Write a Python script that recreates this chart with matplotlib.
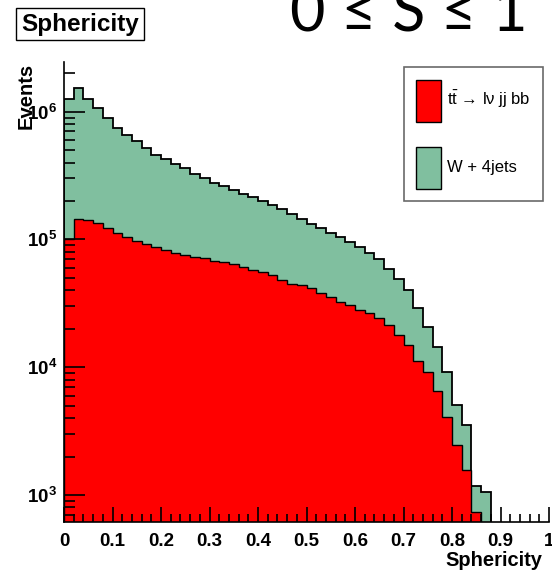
import matplotlib
matplotlib.use('Agg')
import matplotlib.pyplot as plt
from matplotlib.patches import Patch
from matplotlib.ticker import FixedLocator, MultipleLocator, FuncFormatter, LogLocator, NullFormatter
import numpy as np

plt.rcParams['font.family'] = ['Liberation Sans', 'DejaVu Sans']
plt.rcParams['mathtext.fontset'] = 'custom'
plt.rcParams['mathtext.rm'] = 'Liberation Sans'
plt.rcParams['mathtext.it'] = 'Liberation Sans:italic'
plt.rcParams['mathtext.bf'] = 'Liberation Sans:bold'

# 50 bins of sphericity, 0..1
bin_edges = np.linspace(0, 1, 51)

# stacked total (ttbar + W+4jets)
stack_total = [1.25e6, 1.52e6, 1.25e6, 1.06e6, 8.9e5, 7.4e5, 6.6e5, 5.9e5, 5.2e5, 4.6e5,
               4.25e5, 3.9e5, 3.6e5, 3.25e5, 3.05e5, 2.75e5, 2.62e5, 2.44e5, 2.27e5, 2.14e5,
               2.0e5, 1.86e5, 1.72e5, 1.58e5, 1.45e5, 1.33e5, 1.23e5, 1.12e5, 1.04e5, 9.6e4,
               8.7e4, 7.8e4, 7.0e4, 5.9e4, 4.93e4, 4.03e4, 2.91e4, 2.08e4, 1.45e4, 9.1e3,
               5.1e3, 3.5e3, 1.18e3, 1.06e3, 0, 0, 0, 0, 0, 0]

# ttbar -> lv jj bb
ttbar = [1.0e5, 1.45e5, 1.42e5, 1.34e5, 1.22e5, 1.13e5, 1.05e5, 9.7e4, 9.2e4, 8.7e4,
         8.2e4, 7.9e4, 7.6e4, 7.3e4, 7.1e4, 6.8e4, 6.6e4, 6.4e4, 6.1e4, 5.8e4,
         5.6e4, 5.3e4, 4.8e4, 4.5e4, 4.4e4, 4.15e4, 3.8e4, 3.56e4, 3.26e4, 3.07e4,
         2.81e4, 2.65e4, 2.42e4, 2.14e4, 1.79e4, 1.48e4, 1.11e4, 9.2e3, 6.5e3, 4.1e3,
         2.47e3, 1.57e3, 7.3e2, 0, 0, 0, 0, 0, 0, 0]

labels = [r'$\mathrm{t\bar{t}}$' + ' \u2192 l\u03bd jj bb', 'W + 4jets']
colors = ['#ff0000', '#80bf9f']

W, H = 552, 571
fig = plt.figure(figsize=(W / 100, H / 100), dpi=100)
ax = fig.add_axes([64 / W, 1 - 521.7 / H, 485 / W, 460 / H])

ax.set_yscale('log')
ax.stairs(stack_total, bin_edges, fill=True, facecolor=colors[1], baseline=1)
ax.stairs(stack_total, bin_edges, color='black', lw=1.3, baseline=1)
ax.stairs(ttbar, bin_edges, fill=True, facecolor=colors[0], baseline=1)
ax.stairs(ttbar, bin_edges, color='black', lw=1.0, baseline=1)

ax.set_xlim(0, 1)
ax.set_ylim(10 ** 2.791, 10 ** 6.391)

for s in ['top', 'right']:
    ax.spines[s].set_visible(False)
ax.spines['left'].set_linewidth(1.2)
ax.spines['bottom'].set_linewidth(1.2)

ax.xaxis.set_major_locator(MultipleLocator(0.1))
ax.xaxis.set_minor_locator(MultipleLocator(0.02))
ax.xaxis.set_major_formatter(FuncFormatter(lambda v, p: '%g' % round(v, 1)))
ax.yaxis.set_major_locator(FixedLocator([1e3, 1e4, 1e5, 1e6]))
ax.yaxis.set_minor_locator(LogLocator(base=10, subs=np.arange(2, 10)))
ax.yaxis.set_minor_formatter(NullFormatter())
ax.yaxis.set_major_formatter(FuncFormatter(lambda v, p: r'$\mathbf{10^{%d}}$' % round(np.log10(v))))

ax.tick_params(which='both', direction='in', width=1.2, top=False, right=False)
ax.tick_params(axis='x', which='major', length=11, pad=8, labelsize=13.5)
ax.tick_params(axis='x', which='minor', length=6)
ax.tick_params(axis='y', which='major', length=15, pad=5, labelsize=13.5)
ax.tick_params(axis='y', which='minor', length=8)
for t in ax.get_xticklabels():
    t.set_fontweight('bold')
ax.set_zorder(1)

fig.text(542 / W, 1 - 561 / H, 'Sphericity', ha='right', va='center',
         fontsize=14.5, fontweight='bold')
fig.text(26 / W, 1 - 63 / H, 'Events', ha='center', va='top', rotation=90,
         fontsize=14.5, fontweight='bold')

fig.text(80 / W, 1 - 24 / H, 'Sphericity', ha='center', va='center',
         fontsize=17.5, fontweight='bold',
         bbox=dict(boxstyle='square,pad=0.2', facecolor='white', edgecolor='black', lw=1.0))

fig.text(409 / W, 1 - 32 / H, '0 \u2264 S \u2264 1', ha='center', va='baseline',
         fontsize=44, family=['Lato', 'DejaVu Sans'])

handles = [Patch(facecolor=colors[0], edgecolor='black', lw=1.0),
           Patch(facecolor=colors[1], edgecolor='black', lw=1.0)]
leg = ax.legend(handles, labels, loc='upper right', bbox_to_anchor=(543 / W, 1 - 67 / H),
                bbox_transform=fig.transFigure, fontsize=12, frameon=True, fancybox=False,
                edgecolor='#444444', handlelength=1.5, handleheight=3.5, labelspacing=1.5,
                handletextpad=0.35, borderpad=0.75, borderaxespad=0)
leg.get_frame().set_linewidth(1.2)

fig.savefig('out.png', dpi=100)
